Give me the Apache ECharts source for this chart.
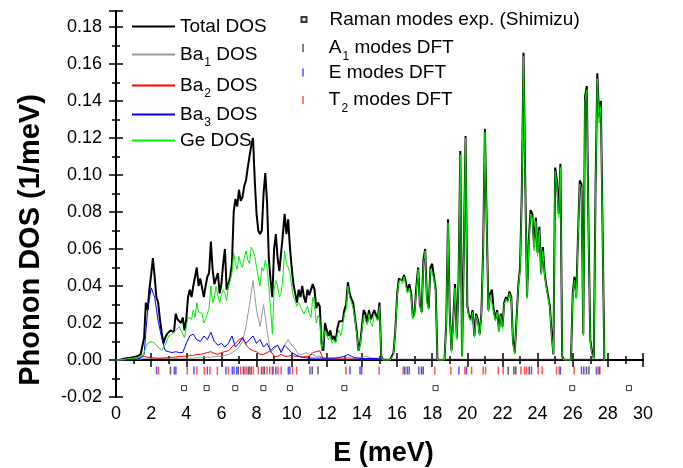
<!DOCTYPE html>
<html>
<head>
<meta charset="utf-8">
<script src="https://cdn.jsdelivr.net/npm/echarts@6/dist/echarts.min.js"></script>
<style>html,body{margin:0;padding:0;background:#fff}#c{width:683px;height:468px}</style>
</head>
<body>
<div id="c"></div>
<script>
// Energy grids (meV): total/Ge sampled every 0.1 meV, Ba partials every 0.2 meV
const FINE_STEP = 0.1;
const COARSE_STEP = 0.2;

const totalDOS = [
0,0,0,0.0003,0.0005,0.0008,0.001,0.0008,0.0012,0.001,
0.0015,0.0012,0.002,0.0025,0.003,0.004,0.012,0.031,0.027,0.038,
0.046,0.055,0.045,0.034,0.031,0.022,0.015,0.009,0.012,0.014,
0.013,0.016,0.015,0.015,0.025,0.022,0.023,0.020,0.023,0.016,
0.022,0.034,0.038,0.034,0.040,0.040,0.050,0.040,0.044,0.045,
0.034,0.040,0.045,0.047,0.064,0.049,0.041,0.044,0.047,0.036,
0.041,0.052,0.060,0.038,0.041,0.045,0.052,0.080,0.087,0.083,
0.092,0.086,0.088,0.094,0.097,0.104,0.110,0.116,0.120,0.097,
0.079,0.070,0.068,0.070,0.090,0.101,0.085,0.055,0.043,0.034,
0.060,0.068,0.055,0.048,0.049,0.068,0.079,0.068,0.076,0.061,
0.050,0.041,0.040,0.031,0.038,0.034,0.040,0.034,0.031,0.038,
0.035,0.036,0.041,0.038,0.028,0.031,0.029,0.009,0.005,0.020,
0.016,0.013,0.016,0.011,0.013,0.010,0.017,0.021,0.020,0.021,
0.027,0.030,0.042,0.036,0.033,0.031,0.023,0.016,0.005,0.009,
0.018,0.027,0.025,0.020,0.027,0.022,0.022,0.027,0.026,0.022,
0.031,0.002,0,0,0,0,0,0,0.004,0.016,
0.035,0.044,0.045,0.043,0.046,0.042,0.037,0.041,0.036,0.023,
0.026,0.040,0.050,0.030,0.026,0.054,0.060,0.033,0.028,0.050,
0.052,0.045,0.038,0,0,0,0,0,0.020,0.076,
0.025,0.005,0.022,0.041,0.012,0.043,0.113,0.002,0.059,0.121,
0.029,0.024,0.022,0.027,0.013,0.025,0.022,0.014,0.025,0.060,
0.125,0.076,0.027,0.036,0.038,0.027,0.022,0.027,0.016,0.025,
0.018,0.031,0.034,0.032,0.037,0.034,0.010,0.004,0.003,0.040,
0.050,0.090,0.166,0.095,0.034,0.065,0.081,0.079,0.061,0.077,
0.058,0.072,0.047,0.061,0.047,0.040,0.040,0.029,0.014,0.003,
0.104,0.097,0.079,0.106,0.002,0,0,0,0,0,
0.036,0.045,0.034,0.067,0.097,0.095,0.014,0.142,0.148,0.070,
0.011,0.004,0.001,0.094,0.155,0.131,0.140,0.139,0
];

const geDOS = [
0,0,0,0.0002,0.0003,0.0005,0.0006,0.0005,0.0008,0.0007,
0.001,0.0009,0.0012,0.0015,0.002,0.003,0.004,0.007,0.009,0.010,
0.010,0.011,0.009,0.008,0.007,0.007,0.005,0.005,0.008,0.009,
0.013,0.012,0.014,0.013,0.016,0.015,0.018,0.016,0.016,0.012,
0.018,0.023,0.022,0.022,0.027,0.023,0.031,0.026,0.027,0.025,
0.020,0.022,0.023,0.028,0.040,0.031,0.034,0.040,0.035,0.031,
0.035,0.038,0.036,0.032,0.040,0.043,0.047,0.058,0.052,0.049,
0.056,0.052,0.050,0.055,0.059,0.054,0.052,0.061,0.059,0.056,
0.050,0.045,0.040,0.050,0.048,0.054,0.050,0.040,0.028,0.014,
0.038,0.043,0.040,0.034,0.036,0.045,0.059,0.052,0.050,0.047,
0.040,0.034,0.032,0.029,0.031,0.029,0.027,0.025,0.027,0.029,
0.025,0.023,0.034,0.030,0.020,0.024,0.022,0.005,0.004,0.016,
0.013,0.011,0.013,0.009,0.011,0.009,0.014,0.016,0.013,0.018,
0.025,0.027,0.040,0.034,0.031,0.028,0.022,0.014,0.005,0.008,
0.016,0.024,0.023,0.019,0.025,0.020,0.018,0.025,0.023,0.021,
0.029,0.002,0,0,0,0,0,0,0.003,0.015,
0.034,0.042,0.044,0.041,0.045,0.040,0.036,0.039,0.034,0.022,
0.025,0.038,0.049,0.029,0.025,0.052,0.059,0.031,0.027,0.049,
0.050,0.044,0.036,0,0,0,0,0,0.019,0.074,
0.024,0.004,0.021,0.039,0.011,0.042,0.111,0.002,0.057,0.120,
0.028,0.023,0.021,0.026,0.012,0.024,0.021,0.013,0.024,0.058,
0.123,0.074,0.026,0.035,0.036,0.026,0.021,0.026,0.015,0.024,
0.017,0.030,0.033,0.031,0.036,0.033,0.009,0.003,0.003,0.039,
0.048,0.088,0.164,0.093,0.033,0.063,0.079,0.077,0.059,0.075,
0.056,0.070,0.046,0.059,0.046,0.039,0.038,0.028,0.013,0.003,
0.102,0.095,0.077,0.104,0.002,0,0,0,0,0,
0.035,0.043,0.033,0.065,0.095,0.093,0.013,0.140,0.146,0.068,
0.010,0.003,0.001,0.092,0.152,0.128,0.137,0.136,0
];

const ba1DOS = [
0,0,0,0.0002,0.0003,0.0004,0.0005,0.0005,0.0008,0.001,
0.001,0.001,0.0008,0.0008,0.0008,0.001,0.001,0.0008,0.001,0.001,
0.0008,0.001,0.001,0.0012,0.0012,0.0015,0.0015,0.0015,0.0018,0.002,
0.002,0.0025,0.003,0.004,0.005,0.007,0.010,0.018,0.030,0.043,
0.027,0.018,0.030,0.016,0.004,0.006,0.008,0.005,0.008,0.011,
0.008,0.006,0.003,0.003,0.004,0.003,0.003,0.002,0.002,0.001,
0.001,0.001,0.001,0.001,0.001,0.001,0.0015,0.001,0.001,0.001,
0.0015,0.002,0.0015,0.001,0.001,0.001,0.0005,0.0003,0.0003,0.0003,
0.0003,0.0003,0.0003,0.0003,0.0003,0.0003,0.0003,0.0003,0.0003,0.0003,
0.0003,0.0003,0.0003,0.0003,0.0003,0.0003,0.0003,0.0003,0.0003,0.0003,
0.0003,0.0003,0.0003,0.0003,0.0003,0.0003,0.0003,0.0003,0.0003,0.0003,
0.0003,0.0003,0.0003,0.0003,0.0003,0.0003,0.0003,0.0003,0.0003,0.0003,
0.0003,0.0003,0.0003,0.0003,0.0003,0.0003,0.0003,0.0003,0.0003,0.0003,
0.0003,0.0003,0.0003,0.0003,0.0003,0.0003,0.0003,0.0003,0.0003,0
];

const ba2DOS = [
0,0,0.0002,0.0005,0.0008,0.001,0.0012,0.0015,0.002,0.0015,
0.0012,0.001,0.001,0.001,0.0012,0.0012,0.0015,0.0015,0.002,0.002,
0.002,0.0025,0.0025,0.003,0.003,0.0035,0.004,0.0045,0.0035,0.003,
0.004,0.0045,0.005,0.007,0.009,0.011,0.012,0.008,0.006,0.005,
0.0045,0.003,0.003,0.004,0.005,0.002,0.002,0.003,0.002,0.002,
0.0025,0.002,0.002,0.0015,0.002,0.002,0.004,0.0045,0.005,0.0005,
0.0005,0.0005,0.0005,0.0005,0.0005,0.0005,0.0005,0.0005,0.0005,0.0005,
0.0005,0.0005,0.0005,0.0005,0.0005,0.0005,0.0003,0.0003,0.0003,0.0003,
0.0003,0.0003,0.0003,0.0003,0.0003,0.0003,0.0003,0.0003,0.0003,0.0003,
0.0003,0.0003,0.0003,0.0003,0.0003,0.0003,0.0003,0.0003,0.0003,0.0003,
0.0003,0.0003,0.0003,0.0003,0.0003,0.0003,0.0003,0.0003,0.0003,0.0003,
0.0003,0.0003,0.0003,0.0003,0.0003,0.0003,0.0003,0.0003,0.0003,0.0003,
0.0003,0.0003,0.0003,0.0003,0.0003,0.0003,0.0003,0.0003,0.0003,0.0003,
0.0003,0.0003,0.0003,0.0003,0.0003,0.0003,0.0003,0.0003,0.0003,0
];

const ba3DOS = [
0,0,0,0.0002,0.0003,0.0004,0.0005,0.001,0.003,0.027,
0.039,0.034,0.021,0.012,0.005,0.0045,0.004,0.0045,0.004,0.004,
0.009,0.013,0.014,0.011,0.010,0.013,0.011,0.015,0.010,0.008,
0.009,0.007,0.009,0.013,0.007,0.009,0.012,0.009,0.011,0.013,
0.009,0.011,0.007,0.009,0.005,0.007,0.008,0.004,0.008,0.006,
0.004,0.003,0.002,0.0015,0.0012,0.001,0.001,0.001,0.001,0.001,
0.001,0.001,0.001,0.0012,0.0015,0.002,0.003,0.002,0.0012,0.001,
0.0008,0.0008,0.0008,0.0008,0.0008,0.0006,0.0004,0.0003,0.0003,0.0003,
0.0003,0.0003,0.0003,0.0003,0.0003,0.0003,0.0003,0.0003,0.0003,0.0003,
0.0003,0.0003,0.0003,0.0003,0.0003,0.0003,0.0003,0.0003,0.0003,0.0003,
0.0003,0.0003,0.0003,0.0003,0.0003,0.0003,0.0003,0.0003,0.0003,0.0003,
0.0003,0.0003,0.0003,0.0003,0.0003,0.0003,0.0003,0.0003,0.0003,0.0003,
0.0003,0.0003,0.0003,0.0003,0.0003,0.0003,0.0003,0.0003,0.0003,0.0003,
0.0003,0.0003,0.0003,0.0003,0.0003,0.0003,0.0003,0.0003,0.0003,0
];

// Mode energies (meV)
const ramanExp = [3.87, 5.16, 6.79, 8.39, 9.9, 13.0, 18.19, 25.97, 29.2];
const a1Modes = [3.1, 6.96, 7.55, 8.45, 11.17, 11.5, 16.44, 17.39, 22.33, 22.65, 22.76, 23.52, 26.78, 26.92, 27.54];
const eModes = [2.31, 3.32, 3.41, 4.44, 5.2, 6.26, 6.62, 6.72, 6.87, 7.25, 7.7, 8.28, 8.9, 9.1, 9.81, 9.9, 11.04, 13.32, 13.89, 13.98, 16.58, 16.69, 17.24, 17.49, 19.52, 19.95, 23.65, 25.3, 26.5, 26.63, 27.35];
const t2Modes = [2.42, 4.06, 4.6, 5.03, 5.35, 5.77, 6.4, 7.1, 7.34, 7.45, 7.62, 7.82, 8.1, 8.38, 8.6, 8.75, 8.95, 9.22, 9.4, 10.05, 10.28, 13.09, 14.98, 16.35, 18.15, 19.06, 19.86, 20.24, 20.9, 21.04, 21.76, 22.04, 23.05, 23.26, 23.37, 24.03, 24.26, 25.08, 25.23, 26.08, 27.45];
// vertical levels at which the mode markers are drawn
const MODE_ROW = -0.0057;
const RAMAN_ROW = -0.0152;

const xTicks = {min: 0, max: 30, interval: 2};
const yTicks = {min: -0.02, max: 0.1886, interval: 0.02};

function grid(arr, step) { return arr.map((v, i) => [+(i * step).toFixed(2), v]); }
function row(arr, y) { return arr.map(e => [e, y]); }

const FONT = '"Liberation Sans", Arial, sans-serif';
const chart = echarts.init(document.getElementById('c'), null, {renderer: 'canvas'});

const tickCommon = {
  axisLine: {show: true, lineStyle: {color: '#000', width: 2}},
  axisTick: {show: true, inside: true, length: 7, lineStyle: {color: '#000', width: 1.5}},
  minorTick: {show: true, splitNumber: 2, length: 4, lineStyle: {color: '#000', width: 1.5}},
  splitLine: {show: false},
  minorSplitLine: {show: false}
};

function richFmt(name) {
  const m = name.match(/^([A-Za-z]+)(\d)( .*)$/);
  if (m) return '{n|' + m[1] + '}{s|' + m[2] + '}{n|' + m[3] + '}';
  return '{n|' + name + '}';
}
const richStyles = {
  n: {fontSize: 19, lineHeight: 30, color: '#000', fontFamily: FONT},
  s: {fontSize: 12, lineHeight: 12, padding: [17, 0, 0, 1], color: '#000', fontFamily: FONT}
};

function legendItem(name, left, rowCenter, w, h, padLeft) {
  return {
    data: [name], left: left, top: rowCenter - 15, padding: 0,
    itemWidth: w, itemHeight: h, selectedMode: false,
    formatter: richFmt,
    textStyle: {rich: richStyles, padding: [0, 0, 0, padLeft || 0]}
  };
}

const option = {
  animation: false,
  backgroundColor: '#fff',
  textStyle: {fontFamily: FONT},
  grid: {left: 116, right: 40, top: 11, bottom: 71, containLabel: false, outerBoundsMode: 'none'},
  legend: [
    legendItem('Total DOS', 131, 32, 43, 2),
    legendItem('Ba1 DOS', 131, 55, 43, 2),
    legendItem('Ba2 DOS', 131, 86, 43, 2),
    legendItem('Ba3 DOS', 131, 115, 43, 2),
    legendItem('Ge DOS', 131, 146, 43, 2),
    legendItem('Raman modes exp. (Shimizu)', 300.5, 25, 5, 5, 18),
    legendItem('A1 modes DFT', 302.3, 48.5, 1.5, 8, 20),
    legendItem('E modes DFT', 302.3, 78, 1.5, 8, 20),
    legendItem('T2 modes DFT', 302.3, 100.5, 1.5, 8, 20)
  ],
  xAxis: [
    Object.assign({
      type: 'value', position: 'bottom', min: xTicks.min, max: xTicks.max, interval: xTicks.interval,
      name: 'E (meV)', nameLocation: 'middle', nameGap: 43,
      nameTextStyle: {fontSize: 27, fontWeight: 'bold', color: '#000', fontFamily: FONT, padding: [0, 0, 0, 8]},
      axisLabel: {show: true, fontSize: 18, color: '#000', margin: 8, fontFamily: FONT}
    }, tickCommon),
    Object.assign({
      type: 'value', position: 'top', min: xTicks.min, max: xTicks.max, interval: xTicks.interval,
      axisLabel: {show: false}
    }, tickCommon)
  ],
  yAxis: [
    Object.assign({
      type: 'value', position: 'left', min: yTicks.min, max: yTicks.max, interval: yTicks.interval,
      name: 'Phonon DOS (1/meV)', nameLocation: 'middle', nameGap: 71, nameRotate: 90,
      nameTextStyle: {fontSize: 29, fontWeight: 'bold', color: '#000', fontFamily: FONT, padding: [0, 72, 0, 0]},
      axisLabel: {show: true, fontSize: 18, color: '#000', margin: 14, fontFamily: FONT,
        showMaxLabel: false, formatter: v => v.toFixed(2)}
    }, tickCommon),
    Object.assign({
      type: 'value', position: 'right', min: yTicks.min, max: yTicks.max, interval: yTicks.interval,
      axisLabel: {show: false}
    }, tickCommon)
  ],
  series: [
    {name: 'Total DOS', type: 'line', data: grid(totalDOS, FINE_STEP), symbol: 'none', showSymbol: false,
     lineStyle: {color: '#000', width: 2}, itemStyle: {color: '#000'}},
    {name: 'Ba1 DOS', type: 'line', data: grid(ba1DOS, COARSE_STEP), symbol: 'none', showSymbol: false,
     lineStyle: {color: '#999999', width: 1}, itemStyle: {color: '#999999'}},
    {name: 'Ba2 DOS', type: 'line', data: grid(ba2DOS, COARSE_STEP), symbol: 'none', showSymbol: false,
     lineStyle: {color: '#ff0000', width: 1}, itemStyle: {color: '#ff0000'}},
    {name: 'Ba3 DOS', type: 'line', data: grid(ba3DOS, COARSE_STEP), symbol: 'none', showSymbol: false,
     lineStyle: {color: '#0000ff', width: 1}, itemStyle: {color: '#0000ff'}},
    {name: 'Ge DOS', type: 'line', data: grid(geDOS, FINE_STEP), symbol: 'none', showSymbol: false,
     lineStyle: {color: '#00f000', width: 1}, itemStyle: {color: '#00f000'}},
    {name: 'Raman modes exp. (Shimizu)', type: 'scatter', data: row(ramanExp, RAMAN_ROW),
     symbol: 'rect', symbolSize: 5, itemStyle: {color: '#fff', borderColor: '#000', borderWidth: 1}},
    {name: 'A1 modes DFT', type: 'scatter', data: row(a1Modes, MODE_ROW),
     symbol: 'rect', symbolSize: [1.5, 8], itemStyle: {color: '#333'}},
    {name: 'E modes DFT', type: 'scatter', data: row(eModes, MODE_ROW),
     symbol: 'rect', symbolSize: [1.5, 8], itemStyle: {color: '#2a2aff'}},
    {name: 'T2 modes DFT', type: 'scatter', data: row(t2Modes, MODE_ROW),
     symbol: 'rect', symbolSize: [1.5, 8], itemStyle: {color: '#ff2a2a'}}
  ]
};
chart.setOption(option);
</script>
</body>
</html>
